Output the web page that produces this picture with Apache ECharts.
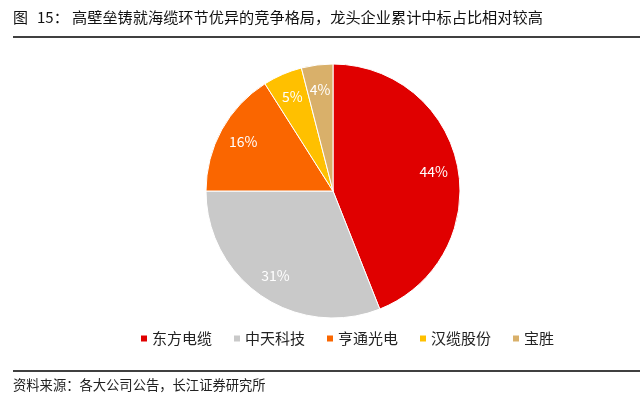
<!DOCTYPE html>
<html><head><meta charset="utf-8">
<script src="https://cdn.jsdelivr.net/npm/echarts@6/dist/echarts.min.js"></script>
<style>html,body{margin:0;padding:0;background:#fff}#c{width:640px;height:398px}</style>
</head><body><div id="c"></div>
<script>
const categories = ['东方电缆', '中天科技', '亨通光电', '汉缆股份', '宝胜'];
const shares = [44, 31, 16, 5, 4];
const colors = ['#E00000', '#C9C9C9', '#FA6600', '#FFC000', '#D9B06A'];
const titlePrefix = '图';
const titleNumber = '15：';
const titleText = '高壁垒铸就海缆环节优异的竞争格局，龙头企业累计中标占比相对较高';
const sourceText = '资料来源：各大公司公告，长江证券研究所';

const font = '"Noto Sans CJK SC", sans-serif';
const data = categories.map((n, i) => ({ name: n, value: shares[i], itemStyle: { color: colors[i] } }));
const chart = echarts.init(document.getElementById('c'));
chart.setOption({
  animation: false,
  color: colors,
  legend: {
    data: categories,
    left: 134, top: 326,
    icon: 'rect', itemWidth: 8, itemHeight: 8, itemGap: 20,
    textStyle: { fontFamily: font, fontSize: 15, color: '#222', padding: [0, 0, 0, -1] }
  },
  graphic: [
    { type: 'text', left: 13, top: 10, style: { text: titlePrefix, font: '15px ' + font, fill: '#111' } },
    { type: 'text', left: 37, top: 10, style: { text: titleNumber, font: '15px ' + font, fill: '#111' } },
    { type: 'text', left: 72, top: 10, style: { text: titleText, font: '15.2px ' + font, fill: '#111' } },
    { type: 'line', shape: { x1: 13, y1: 37, x2: 640, y2: 37 }, style: { stroke: '#000', lineWidth: 1.4 } },
    { type: 'line', shape: { x1: 13, y1: 371, x2: 640, y2: 371 }, style: { stroke: '#000', lineWidth: 1.4 } },
    { type: 'text', left: 13, top: 378, style: { text: sourceText, font: '13.3px ' + font, fill: '#222' } }
  ],
  series: [
    {
      type: 'pie', center: [333, 191], radius: [0, 127], startAngle: 90, clockwise: true,
      label: { show: false }, labelLine: { show: false },
      itemStyle: { borderColor: '#fff', borderWidth: 1 },
      data: data, silent: true
    },
    {
      type: 'pie', center: [333, 191], radius: [72, 127], startAngle: 90, clockwise: true,
      itemStyle: { color: 'rgba(0,0,0,0)' },
      label: { show: true, position: 'inside', formatter: '{c}%', color: '#fff', fontSize: 14, fontFamily: font },
      labelLine: { show: false },
      data: categories.map((n, i) => ({ name: n + ' ', value: shares[i], itemStyle: { color: 'rgba(0,0,0,0)' } })),
      silent: true
    }
  ]
});
</script></body></html>
